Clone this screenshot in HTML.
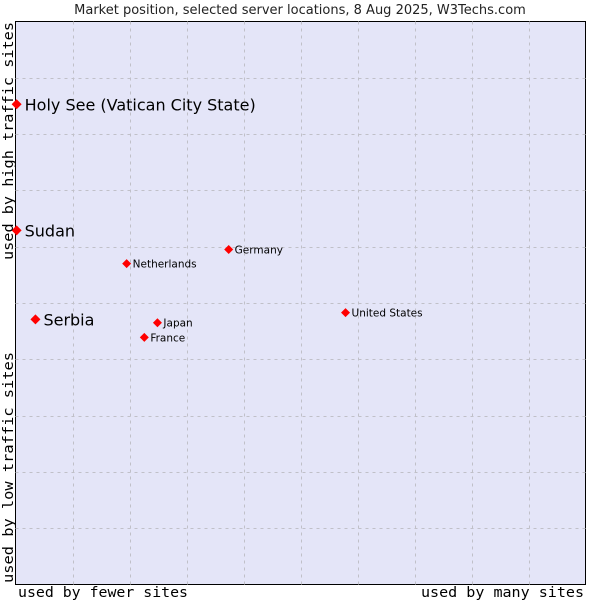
<!DOCTYPE html>
<html><head><meta charset="utf-8"><style>
body{margin:0;background:#fff;width:600px;height:600px;overflow:hidden}
svg{display:block}
</style></head><body>
<svg id="chart" width="600" height="600" xmlns="http://www.w3.org/2000/svg">
<text x="300" y="14" text-anchor="middle" font-family="DejaVu Sans, sans-serif" font-size="13" fill="#222">Market position, selected server locations, 8 Aug 2025, W3Techs.com</text>
<rect x="15.5" y="21.5" width="570" height="563" fill="#e4e5f8" stroke="#000" stroke-width="1"/>
<g id="grid"></g>
<g id="points"></g>
<text x="18" y="597" textLength="170" lengthAdjust="spacingAndGlyphs" font-family="DejaVu Sans Mono, monospace" font-size="14" fill="#000">used by fewer sites</text>
<text x="421" y="597" textLength="163" lengthAdjust="spacingAndGlyphs" font-family="DejaVu Sans Mono, monospace" font-size="14" fill="#000">used by many sites</text>
<text transform="translate(13,260) rotate(-90)" textLength="238" lengthAdjust="spacingAndGlyphs" font-family="DejaVu Sans Mono, monospace" font-size="14" fill="#000">used by high traffic sites</text>
<text transform="translate(13,583) rotate(-90)" textLength="231" lengthAdjust="spacingAndGlyphs" font-family="DejaVu Sans Mono, monospace" font-size="14" fill="#000">used by low traffic sites</text>
</svg>
<script>
const names = ["Holy See (Vatican City State)","Sudan","Serbia","Netherlands","Germany","Japan","France","United States"];
const xVals = [0.2,0.2,3.5,19.5,37.4,24.9,22.6,57.9];
const yVals = [85.3,62.9,47.1,57.0,59.5,46.5,43.9,48.3];
const big = [true,true,true,false,false,false,false,false];
const X0=15.5,X1=585.5,Y0=584.5,Y1=21.5;
const sx=v=>X0+(X1-X0)*v/100, sy=v=>Y0-(Y0-Y1)*v/100;
const NS="http://www.w3.org/2000/svg";
const g=document.getElementById('grid');
for(let i=1;i<10;i++){
  const vx=document.createElementNS(NS,'line');
  
  
  const x=Math.round(sx(i*10))+0.5;
  vx.setAttribute('x1',x);vx.setAttribute('x2',x);vx.setAttribute('y1',Y1);vx.setAttribute('y2',Y0);
  vx.setAttribute('stroke','#c0c0c8');vx.setAttribute('stroke-dasharray','3,4');g.appendChild(vx);
  const hz=document.createElementNS(NS,'line');
  
  
  const y=Math.round(sy(i*10))+0.5;
  hz.setAttribute('x1',X0);hz.setAttribute('x2',X1);hz.setAttribute('y1',y);hz.setAttribute('y2',y);
  hz.setAttribute('stroke','#c0c0c8');hz.setAttribute('stroke-dasharray','3,4');g.appendChild(hz);
}
const p=document.getElementById('points');
names.forEach((n,i)=>{
  const cx=sx(xVals[i]),cy=sy(yVals[i]);
  const d=document.createElementNS(NS,'polygon');
  
  
  const r=big[i]?5:4.5;
  d.setAttribute('points',`${cx},${cy-r} ${cx+r},${cy} ${cx},${cy+r} ${cx-r},${cy}`);
  d.setAttribute('fill','#f00');p.appendChild(d);
  const t=document.createElementNS(NS,'text');
  
  
  t.setAttribute('x',cx+(big[i]?8:6));t.setAttribute('y',cy+(big[i]?6:4));
  t.setAttribute('font-family','DejaVu Sans, sans-serif');
  t.setAttribute('font-size',big[i]?16:10.5);t.setAttribute('fill','#000');
  t.textContent=n;p.appendChild(t);
});
</script>
</body></html>
